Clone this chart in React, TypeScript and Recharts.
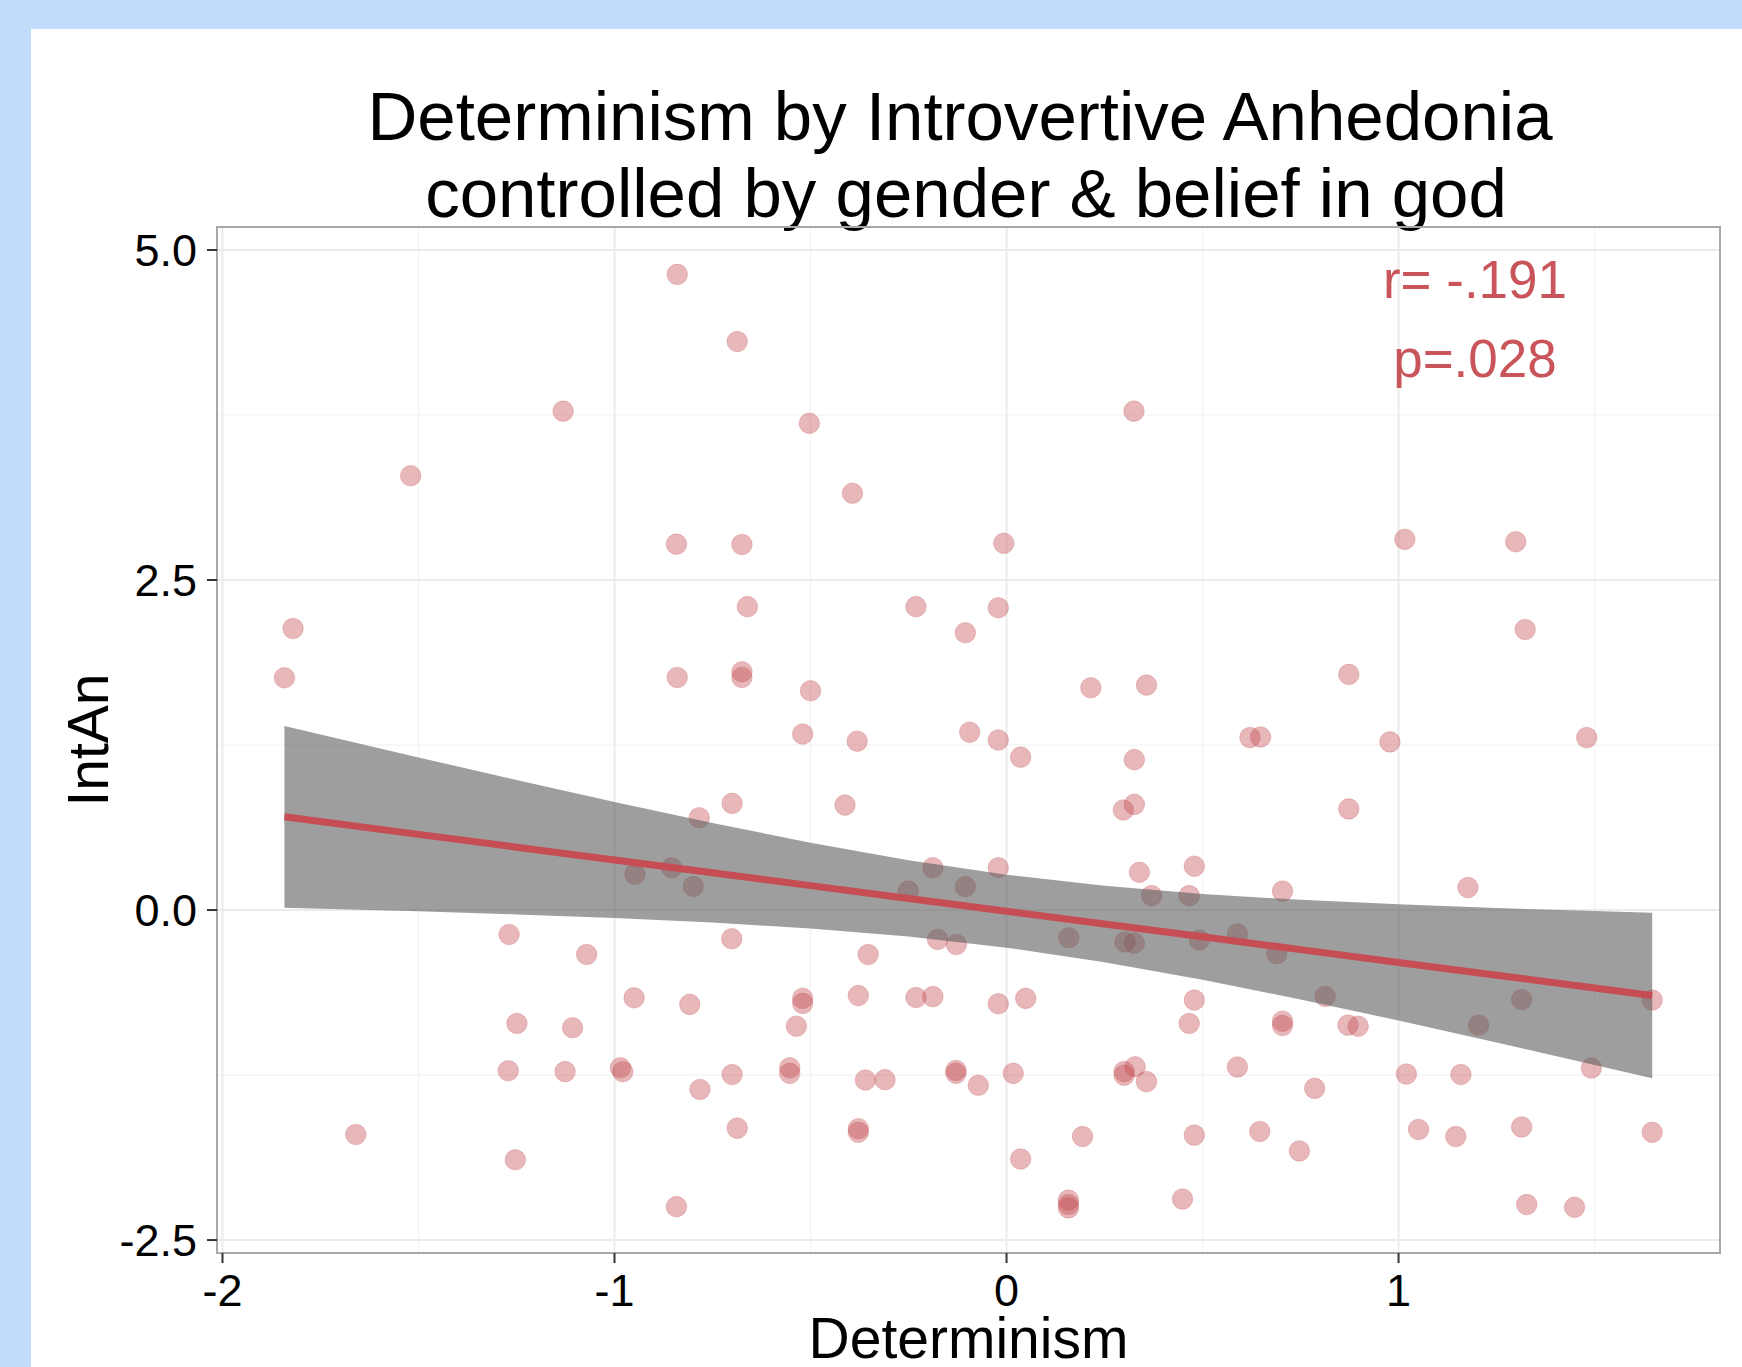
import React from 'react';
import {
  ComposedChart,
  Scatter,
  Area,
  Line,
  XAxis,
  YAxis,
  CartesianGrid,
  ReferenceArea,
  ReferenceDot,
} from 'recharts';

// partial residuals
const determinism = [
  -1.842, -1.82, -1.66, -1.52, -1.269, -1.249, -1.271, -1.253, -1.131, -1.126,
  -1.107, -1.071, -0.985, -0.979, -0.948, -0.95, -0.854, -0.84, -0.842, -0.84,
  -0.842, -0.808, -0.799, -0.784, -0.782, -0.7, -0.701, -0.7, -0.687, -0.687,
  -0.675, -0.675, -0.675, -0.661, -0.553, -0.553, -0.536, -0.52, -0.52, -0.52,
  -0.503, -0.5, -0.412, -0.393, -0.381, -0.378, -0.378, -0.378, -0.36, -0.353,
  -0.31, -0.251, -0.231, -0.231, -0.188, -0.188, -0.176, -0.129, -0.129, -0.128,
  -0.105, -0.105, -0.094, -0.072, -0.021, -0.021, -0.021, -0.021, -0.007, 0.017,
  0.036, 0.036, 0.049, 0.159, 0.158, 0.158, 0.158, 0.194, 0.215, 0.298,
  0.302, 0.3, 0.3, 0.325, 0.326, 0.326, 0.326, 0.328, 0.339, 0.357,
  0.357, 0.37, 0.449, 0.466, 0.466, 0.479, 0.479, 0.479, 0.492, 0.589,
  0.589, 0.621, 0.648, 0.646, 0.689, 0.704, 0.704, 0.704, 0.747, 0.786,
  0.813, 0.873, 0.873, 0.871, 0.897, 0.978, 1.016, 1.02, 1.051, 1.146,
  1.159, 1.177, 1.204, 1.299, 1.314, 1.314, 1.323, 1.327, 1.449, 1.48,
  1.492, 1.647, 1.647,
];

const intAn = [
  1.759, 2.133, -1.7, 3.29, -0.185, -0.859, -1.218, -1.892, 3.779, -1.224,
  -0.892, -0.337, -1.195, -1.225, 0.272, -0.665, 0.32, 4.815, 2.772, 1.762,
  -2.247, -0.715, 0.178, 0.699, -1.359, 0.808, -0.217, -1.246, 4.306, -1.652,
  2.769, 1.805, 1.762, 2.298, -1.195, -1.237, -0.88, 1.333, -0.669, -0.707,
  3.687, 1.661, 0.795, 3.157, 1.279, -0.648, -1.657, -1.683, -1.288, -0.337,
  -1.285, 0.143, 2.298, -0.663, -0.656, 0.32, -0.223, -1.215, -1.237, -0.261,
  2.1, 0.177, 1.347, -1.327, 2.29, 1.288, 0.32, -0.71, 2.778, -1.237,
  1.158, -1.886, -0.669, -0.21, -2.197, -2.231, -2.256, -1.716, 1.684, 0.758,
  -0.242, -1.224, -1.251, 3.779, 0.8, 1.139, -0.25, -1.187, 0.286, 1.704,
  -1.3, 0.109, -2.189, 0.109, -0.859, 0.332, -0.682, -1.705, -0.227, -0.182,
  -1.189, 1.306, 1.311, -1.678, -0.331, 0.143, -0.842, -0.875, -1.825, -1.351,
  -0.655, 1.785, 0.766, -0.872, -0.88, 1.274, 2.808, -1.242, -1.662, -1.716,
  -1.246, 0.17, -0.872, 2.79, -0.678, -1.643, 2.125, -2.231, -2.252, 1.306,
  -1.197, -0.682, -1.684,
];

// fitted line and 95% band, read at these x positions
const fitX = [-1.842, -1.5, -1.25, -1, -0.75, -0.5, -0.25, 0, 0.25, 0.5, 0.75, 1, 1.25, 1.5, 1.647];
const fitY = [0.706, 0.573, 0.476, 0.379, 0.282, 0.185, 0.088, -0.009, -0.106, -0.203, -0.3, -0.397, -0.494, -0.591, -0.648];
const ciLow = [0.018, -0.01, -0.033, -0.061, -0.095, -0.14, -0.201, -0.285, -0.395, -0.528, -0.677, -0.837, -1.003, -1.174, -1.275];
const ciHigh = [1.394, 1.156, 0.985, 0.819, 0.659, 0.51, 0.377, 0.267, 0.183, 0.122, 0.077, 0.043, 0.015, -0.008, -0.021];

const xTicks = [-2, -1, 0, 1];
const yTicks = [-2.5, 0, 2.5, 5];
const xMinor = [-1.5, -0.5, 0.5, 1.5];
const yMinor = [-1.25, 1.25, 3.75];

const X_DOMAIN = [-2.014, 1.82];
const Y_DOMAIN = [-2.598, 5.174];

const FONT = '"Liberation Sans", Arial, Helvetica, sans-serif';
const RED = '#c64d53';
const TEXT_RED = '#c9545a';
const POINT = '#c44a50';

const points = determinism.map((x, i) => ({ x, y: intAn[i] }));
const fitRows = fitX.map((x, i) => ({ x, fit: fitY[i], ci: [ciLow[i], ciHigh[i]] }));

const Dot = (props: any) => {
  const { cx, cy } = props;
  if (cx == null || cy == null) return null;
  return (
    <circle
      cx={cx}
      cy={cy}
      r={10.3}
      fill={POINT}
      fillOpacity={0.4}
      stroke={POINT}
      strokeOpacity={0.25}
      strokeWidth={1}
    />
  );
};

const YTitle = (props: any) => {
  const vb = props.viewBox || { x: 0, y: 0, width: 0, height: 0 };
  const cx = vb.x + 108;
  const cy = vb.y + vb.height / 2;
  return (
    <text
      x={cx}
      y={cy}
      transform={`rotate(-90 ${cx} ${cy})`}
      textAnchor="middle"
      fontSize={57}
      fontFamily={FONT}
      fill="#000"
    >
      IntAn
    </text>
  );
};

export default function App() {
  return (
    <div
      style={{
        position: 'absolute',
        left: 0,
        top: 0,
        width: 1742,
        height: 1367,
        background: '#c2dcfb',
        overflow: 'hidden',
        fontFamily: FONT,
      }}
    >
      <div style={{ position: 'absolute', left: 31, top: 29, right: 0, bottom: 0, background: '#fff' }} />
      <svg style={{ position: 'absolute', left: 0, top: 0 }} width={1742} height={1367}>
        <text x={960} y={140} textAnchor="middle" fontSize={69} fontFamily={FONT} fill="#000">
          Determinism by Introvertive Anhedonia
        </text>
        <text x={966} y={217} textAnchor="middle" fontSize={69} fontFamily={FONT} fill="#000">
          {'controlled by gender & belief in god'}
        </text>
      </svg>
      <div style={{ position: 'absolute', left: 0, top: 0 }}>
        <ComposedChart
          width={1742}
          height={1367}
          data={fitRows}
          margin={{ top: 227, right: 22, bottom: 0, left: 0 }}
        >
          <CartesianGrid verticalValues={xMinor} horizontalValues={yMinor} stroke="#f2f2f2" strokeWidth={1.2} />
          <CartesianGrid verticalValues={xTicks} horizontalValues={yTicks} stroke="#ebebeb" strokeWidth={2} />
          <XAxis
            type="number"
            dataKey="x"
            domain={X_DOMAIN}
            ticks={xTicks}
            allowDataOverflow
            height={114}
            axisLine={false}
            tickLine={{ stroke: '#333', strokeWidth: 2 }}
            tickSize={10}
            tickMargin={11}
            tick={{ fontSize: 45, fill: '#000', fontFamily: FONT }}
            tickFormatter={(v: number) => String(v)}
            label={{ value: 'Determinism', position: 'insideBottom', offset: 9, fontSize: 57, fill: '#000', fontFamily: FONT }}
          />
          <YAxis
            type="number"
            dataKey="y"
            domain={Y_DOMAIN}
            ticks={yTicks}
            allowDataOverflow
            width={217}
            axisLine={false}
            tickLine={{ stroke: '#333', strokeWidth: 2 }}
            tickSize={10}
            tickMargin={10}
            tick={{ fontSize: 45, fill: '#000', fontFamily: FONT }}
            tickFormatter={(v: number) => v.toFixed(1)}
            label={<YTitle />}
          />
          <Scatter data={points} shape={<Dot />} isAnimationActive={false} zIndex={50} />
          <Area
            type="linear"
            dataKey="ci"
            fill="#5d5d5d"
            fillOpacity={0.6}
            stroke="none"
            isAnimationActive={false}
            activeDot={false}
          />
          <Line
            type="linear"
            dataKey="fit"
            stroke={RED}
            strokeWidth={7}
            dot={false}
            activeDot={false}
            isAnimationActive={false}
          />
          <ReferenceArea
            x1={X_DOMAIN[0]}
            x2={X_DOMAIN[1]}
            y1={Y_DOMAIN[0]}
            y2={Y_DOMAIN[1]}
            fill="none"
            stroke="#a8a8a8"
            strokeWidth={2}
            ifOverflow="visible"
          />
          <ReferenceDot
            x={1.195}
            y={4.779}
            r={0}
            fill="none"
            stroke="none"
            ifOverflow="visible"
            label={{ value: 'r= -.191', position: 'center', fontSize: 53, fill: TEXT_RED, fontFamily: FONT }}
          />
          <ReferenceDot
            x={1.195}
            y={4.18}
            r={0}
            fill="none"
            stroke="none"
            ifOverflow="visible"
            label={{ value: 'p=.028', position: 'center', fontSize: 53, fill: TEXT_RED, fontFamily: FONT }}
          />
        </ComposedChart>
      </div>
    </div>
  );
}
